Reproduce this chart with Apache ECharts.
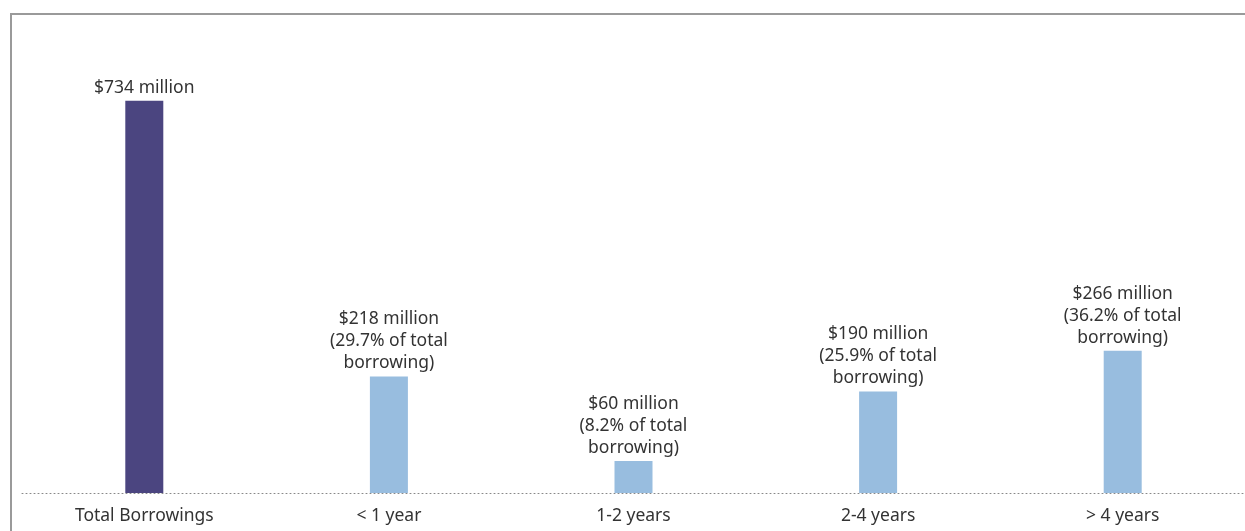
<!DOCTYPE html>
<html>
<head>
<meta charset="utf-8">
<script src="https://cdn.jsdelivr.net/npm/echarts@6/dist/echarts.min.js"></script>
<style>html,body{margin:0;padding:0;background:#fff;}#c{width:1245px;height:531px;}</style>
</head>
<body>
<div id="c"></div>
<script>
var categories = ['Total Borrowings', '< 1 year', '1-2 years', '2-4 years', '> 4 years'];
var values = [734, 218, 60, 190, 266];
var shares = [null, 29.7, 8.2, 25.9, 36.2];
var colors = ['#4b4580', '#98bddf', '#98bddf', '#98bddf', '#98bddf'];

var chart = echarts.init(document.getElementById('c'));
var FONT = '"Noto Sans", sans-serif';
chart.setOption({
  animation: false,
  graphic: [
    { type: 'line', shape: { x1: 11, y1: 14, x2: 1245, y2: 14 }, style: { stroke: '#9a9a9a', lineWidth: 2 } },
    { type: 'line', shape: { x1: 11, y1: 13, x2: 11, y2: 531 }, style: { stroke: '#9a9a9a', lineWidth: 2 } }
  ],
  grid: { left: 22, right: -2, top: 60, bottom: 38, containLabel: false },
  xAxis: {
    type: 'category',
    data: categories,
    axisTick: { show: false },
    axisLine: { lineStyle: { color: '#888', type: [1, 3], width: 1 } },
    axisLabel: { color: '#333', fontSize: 17.5, fontFamily: FONT, margin: 14 }
  },
  yAxis: { type: 'value', min: 0, max: 810, show: false, splitLine: { show: false } },
  series: [{
    type: 'bar',
    barWidth: 38,
    data: values.map(function (v, i) { return { value: v, itemStyle: { color: colors[i] } }; }),
    label: {
      show: true,
      position: 'top',
      distance: 2,
      color: '#333',
      fontSize: 17.5,
      lineHeight: 22,
      fontFamily: FONT,
      align: 'center',
      formatter: function (p) {
        var s = '$' + p.value + ' million';
        if (shares[p.dataIndex] != null) s += '\n(' + shares[p.dataIndex] + '% of total\nborrowing)';
        return s;
      }
    }
  }]
});
</script>
</body>
</html>
